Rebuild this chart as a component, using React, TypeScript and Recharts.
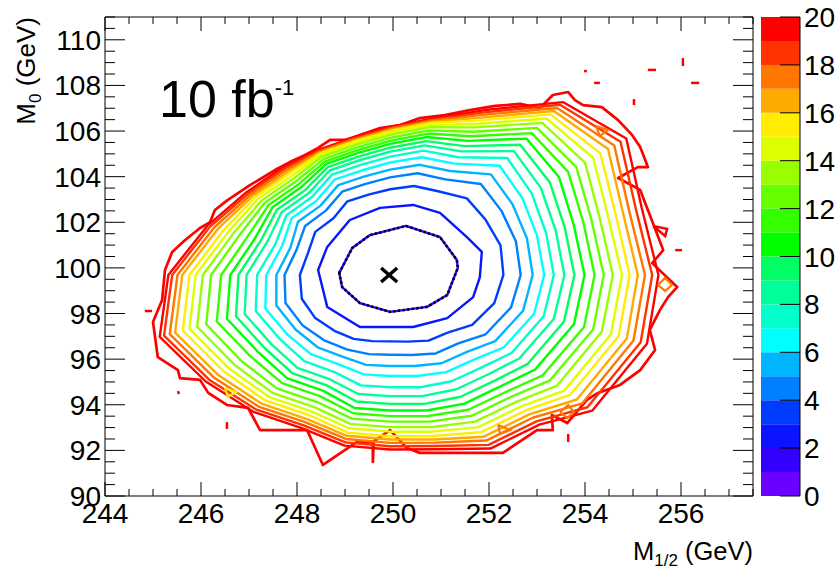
import React from 'react';
import { ScatterChart, Scatter, XAxis, YAxis, BarChart, Bar } from 'recharts';

type P = [number, number];

// palette bands 0..20 (one colour per unit)
const bandColors = ['#6a00ff', '#3300ff', '#0a14ff', '#003cff', '#0080ff', '#00b4ff', '#00ffff', '#00ffcc', '#00ff99', '#00ff66',
  '#00ff00', '#33ff00', '#66ff00', '#99ff00', '#ddff00', '#ffee00', '#ffaa00', '#ff7700', '#ff3300', '#ff0000'];
const colorTicks = [0, 2, 4, 6, 8, 10, 12, 14, 16, 18, 20];
const xMajor = [244, 246, 248, 250, 252, 254, 256];
const yMajor = [90, 92, 94, 96, 98, 100, 102, 104, 106, 108, 110];
const xDomain: P = [244, 257.5];
const yDomain: P = [90, 111];
const zDomain: P = [0, 20];
const bestFit: P = [249.92, 99.69];

// contour lines (M1/2, M0), levels 1..20
const c01: P[] = [[248.88, 99.78], [249.15, 100.87], [249.52, 101.44], [250.27, 101.84], [250.98, 101.35], [251.33, 100.35], [251.35, 100.0], [251.13, 98.81], [250.71, 98.29], [249.94, 98.07], [249.31, 98.46], [248.94, 99.16]];
const c02: P[] = [[248.44, 99.91], [248.63, 100.92], [249.1, 102.1], [249.73, 102.63], [250.42, 102.76], [250.98, 102.41], [251.54, 101.35], [251.85, 100.7], [251.81, 99.6], [251.67, 98.72], [251.13, 97.8], [250.42, 97.41], [249.31, 97.41], [248.63, 98.29]];
const c03: P[] = [[252.30, 99.69], [252.24, 100.99], [251.93, 102.11], [251.54, 103.05], [250.94, 103.36], [250.44, 103.59], [249.94, 103.45], [249.49, 103.21], [249.05, 102.92], [248.76, 102.18], [248.38, 101.58], [248.23, 100.66], [248.06, 99.69], [248.10, 98.65], [248.38, 97.80], [248.78, 97.24], [249.18, 96.89], [249.57, 96.79], [249.94, 96.78], [250.31, 96.77], [250.74, 96.81], [251.14, 97.16], [251.65, 97.50], [252.11, 98.46]];
const c04: P[] = [[252.66, 99.69], [252.56, 101.17], [252.26, 102.50], [251.83, 103.68], [251.09, 103.88], [250.51, 104.15], [249.94, 103.97], [249.43, 103.68], [248.94, 103.34], [248.60, 102.51], [248.17, 101.84], [247.99, 100.79], [247.74, 99.69], [247.76, 98.46], [248.12, 97.47], [248.58, 96.81], [249.05, 96.42], [249.50, 96.22], [249.94, 96.19], [250.39, 96.18], [250.89, 96.25], [251.36, 96.69], [251.93, 97.09], [252.46, 98.27]];
const c05: P[] = [[252.91, 99.69], [252.79, 101.30], [252.49, 102.79], [252.04, 104.10], [251.19, 104.25], [250.56, 104.52], [249.94, 104.31], [249.39, 104.00], [248.86, 103.63], [248.49, 102.73], [248.02, 102.02], [247.86, 100.87], [247.57, 99.69], [247.57, 98.35], [247.97, 97.30], [248.43, 96.52], [248.96, 96.10], [249.44, 95.75], [249.94, 95.70], [250.45, 95.70], [251.01, 95.82], [251.54, 96.32], [252.13, 96.79], [252.71, 98.12]];
const c06: P[] = [[253.15, 99.69], [253.00, 101.42], [252.70, 103.04], [252.22, 104.48], [251.28, 104.57], [250.60, 104.85], [249.94, 104.62], [249.36, 104.28], [248.79, 103.88], [248.40, 102.93], [247.89, 102.18], [247.69, 100.96], [247.36, 99.69], [247.34, 98.22], [247.80, 97.08], [248.29, 96.22], [248.87, 95.77], [249.39, 95.33], [249.94, 95.26], [250.50, 95.26], [251.11, 95.43], [251.70, 95.99], [252.31, 96.52], [252.94, 97.99]];
const c07: P[] = [[253.35, 99.69], [253.19, 101.53], [252.89, 103.27], [252.38, 104.82], [251.36, 104.85], [250.64, 105.14], [249.94, 104.88], [249.33, 104.52], [248.73, 104.09], [248.31, 103.11], [247.78, 102.31], [247.55, 101.04], [247.17, 99.69], [247.14, 98.11], [247.64, 96.89], [248.15, 95.91], [248.78, 95.43], [249.33, 94.85], [249.94, 94.77], [250.57, 94.77], [251.22, 95.03], [251.86, 95.65], [252.47, 96.27], [253.14, 97.88]];
const c08: P[] = [[253.57, 99.69], [253.39, 101.64], [253.08, 103.51], [252.52, 105.12], [251.43, 105.11], [250.66, 105.37], [249.94, 105.10], [249.30, 104.72], [248.68, 104.27], [248.24, 103.27], [247.68, 102.44], [247.38, 101.14], [246.95, 99.69], [246.91, 97.98], [247.46, 96.67], [248.01, 95.62], [248.69, 95.11], [249.28, 94.47], [249.94, 94.38], [250.61, 94.38], [251.32, 94.68], [252.00, 95.35], [252.63, 96.03], [253.35, 97.76]];
const c09: P[] = [[253.78, 99.69], [253.58, 101.75], [253.27, 103.74], [252.65, 105.40], [251.49, 105.34], [250.69, 105.56], [249.94, 105.27], [249.28, 104.88], [248.64, 104.42], [248.17, 103.41], [247.58, 102.55], [247.25, 101.21], [246.78, 99.69], [246.73, 97.88], [247.32, 96.50], [247.90, 95.39], [248.62, 94.85], [249.24, 94.14], [249.94, 94.04], [250.66, 94.04], [251.41, 94.35], [252.13, 95.07], [252.80, 95.78], [253.56, 97.64]];
const c10: P[] = [[253.99, 99.69], [253.77, 101.85], [253.46, 103.97], [252.78, 105.67], [251.55, 105.57], [250.71, 105.74], [249.94, 105.44], [249.26, 105.03], [248.61, 104.56], [248.10, 103.56], [247.49, 102.66], [247.12, 101.28], [246.61, 99.69], [246.54, 97.77], [247.18, 96.33], [247.79, 95.17], [248.55, 94.61], [249.20, 93.86], [249.94, 93.75], [250.70, 93.75], [251.49, 94.05], [252.25, 94.82], [252.96, 95.54], [253.77, 97.53]];
const c11: P[] = [[254.20, 99.69], [253.97, 101.96], [253.65, 104.21], [252.89, 105.91], [251.61, 105.77], [250.73, 105.89], [249.94, 105.57], [249.25, 105.15], [248.58, 104.66], [248.04, 103.68], [247.41, 102.76], [246.97, 101.37], [246.42, 99.69], [246.33, 97.65], [247.02, 96.14], [247.69, 94.95], [248.49, 94.37], [249.17, 93.63], [249.94, 93.50], [250.73, 93.51], [251.57, 93.78], [252.37, 94.58], [253.12, 95.29], [253.98, 97.41]];
const c12: P[] = [[254.39, 99.69], [254.14, 102.06], [253.82, 104.42], [253.00, 106.14], [251.66, 105.97], [250.75, 106.03], [249.94, 105.70], [249.23, 105.27], [248.55, 104.77], [247.98, 103.80], [247.33, 102.86], [246.81, 101.46], [246.21, 99.69], [246.11, 97.53], [246.84, 95.92], [247.58, 94.72], [248.42, 94.12], [249.14, 93.39], [249.94, 93.26], [250.76, 93.26], [251.64, 93.52], [252.47, 94.36], [253.27, 95.07], [254.17, 97.30]];
const c13: P[] = [[254.58, 99.69], [254.31, 102.16], [254.00, 104.62], [253.11, 106.36], [251.71, 106.16], [250.77, 106.17], [249.94, 105.83], [249.22, 105.39], [248.52, 104.88], [247.93, 103.92], [247.26, 102.95], [246.68, 101.53], [246.04, 99.69], [245.92, 97.42], [246.70, 95.75], [247.49, 94.52], [248.36, 93.90], [249.11, 93.16], [249.94, 93.02], [250.79, 93.02], [251.71, 93.26], [252.58, 94.14], [253.42, 94.84], [254.35, 97.20]];
const c14: P[] = [[254.77, 99.69], [254.48, 102.26], [254.17, 104.83], [253.20, 106.55], [251.76, 106.32], [250.78, 106.26], [249.94, 105.92], [249.21, 105.47], [248.50, 104.95], [247.88, 104.02], [247.19, 103.03], [246.57, 101.59], [245.89, 99.69], [245.76, 97.33], [246.58, 95.60], [247.41, 94.35], [248.30, 93.71], [249.08, 92.97], [249.94, 92.82], [250.81, 92.82], [251.78, 93.02], [252.67, 93.93], [253.57, 94.62], [254.54, 97.09]];
const c15: P[] = [[254.93, 99.69], [254.64, 102.34], [254.32, 105.02], [253.28, 106.73], [251.80, 106.47], [250.79, 106.36], [249.94, 106.00], [249.20, 105.55], [248.48, 105.02], [247.83, 104.12], [247.13, 103.10], [246.47, 101.65], [245.76, 99.69], [245.62, 97.25], [246.47, 95.47], [247.33, 94.20], [248.26, 93.54], [249.06, 92.78], [249.94, 92.62], [250.84, 92.63], [251.84, 92.80], [252.76, 93.75], [253.69, 94.43], [254.70, 97.00]];
const c16: P[] = [[255.10, 99.69], [254.79, 102.43], [254.48, 105.21], [253.35, 106.88], [251.83, 106.59], [250.80, 106.40], [249.94, 106.04], [249.19, 105.59], [248.47, 105.05], [247.80, 104.19], [247.08, 103.16], [246.35, 101.71], [245.61, 99.69], [245.46, 97.16], [246.35, 95.32], [247.26, 94.05], [248.21, 93.37], [249.04, 92.64], [249.94, 92.48], [250.86, 92.48], [251.89, 92.60], [252.84, 93.58], [253.83, 94.23], [254.87, 96.90]];
const c17: P[] = [[255.25, 99.69], [254.92, 102.50], [254.61, 105.37], [253.42, 107.01], [251.86, 106.71], [250.80, 106.45], [249.94, 106.09], [249.19, 105.63], [248.46, 105.09], [247.76, 104.27], [247.04, 103.22], [246.27, 101.76], [245.51, 99.69], [245.35, 97.10], [246.26, 95.21], [247.20, 93.92], [248.17, 93.24], [249.02, 92.50], [249.94, 92.33], [250.87, 92.34], [251.94, 92.43], [252.91, 93.43], [253.94, 94.06], [255.01, 96.82]];
const c18: P[] = [[255.40, 99.69], [255.06, 102.58], [254.74, 105.53], [253.48, 107.15], [251.90, 106.82], [250.81, 106.50], [249.94, 106.14], [249.18, 105.67], [248.45, 105.13], [247.73, 104.34], [246.99, 103.27], [246.19, 101.81], [245.40, 99.69], [245.23, 97.03], [246.17, 95.10], [247.14, 93.80], [248.14, 93.10], [249.01, 92.35], [249.94, 92.18], [250.89, 92.19], [251.99, 92.24], [252.99, 93.27], [254.05, 93.89], [255.16, 96.74]];
const c19: P[] = [[255.53, 99.69], [255.18, 102.65], [254.86, 105.67], [253.54, 107.27], [251.92, 106.92], [250.81, 106.54], [249.94, 106.18], [249.18, 105.71], [248.44, 105.17], [247.70, 104.40], [246.95, 103.32], [246.13, 101.84], [245.32, 99.69], [245.14, 96.98], [246.10, 95.02], [247.09, 93.69], [248.10, 92.98], [248.99, 92.21], [249.94, 92.04], [250.91, 92.05], [252.03, 92.08], [253.05, 93.13], [254.15, 93.74], [255.29, 96.67]];
const c20: P[] = [[245.0, 97.63], [245.19, 98.59], [245.25, 99.91], [245.4, 100.7], [245.67, 101.22], [245.98, 101.75], [246.19, 102.01], [246.29, 102.54], [246.56, 102.98], [246.81, 103.33], [247.02, 103.63], [247.27, 103.94], [247.54, 104.29], [247.85, 104.64], [248.17, 104.95], [248.44, 105.26], [248.69, 105.61], [249.0, 105.61], [249.31, 105.83], [249.73, 106.13], [250.15, 106.26], [250.56, 106.57], [251.08, 106.7], [251.6, 106.92], [252.13, 107.1], [252.65, 107.19], [253.06, 107.01], [253.33, 107.58], [253.65, 107.71], [253.79, 107.36], [253.96, 107.14], [254.35, 107.05], [254.69, 106.48], [254.98, 105.83], [255.15, 105.3], [255.31, 104.42], [255.1, 104.42], [254.69, 103.94], [255.15, 103.42], [255.35, 102.32], [255.63, 100.78], [255.4, 100.21], [255.92, 99.16], [255.73, 98.72], [255.56, 98.15], [255.35, 97.28], [255.46, 96.4], [255.15, 95.52], [254.73, 94.87], [254.27, 94.52], [254.04, 94.21], [253.63, 93.2], [253.31, 93.55], [253.33, 92.89], [253.0, 92.89], [252.29, 91.89], [250.56, 91.89], [250.29, 92.1], [249.94, 92.89], [249.58, 92.37], [249.58, 91.49], [249.6, 92.37], [249.25, 92.37], [248.54, 91.36], [248.21, 92.89], [247.23, 92.89], [246.98, 93.86], [246.54, 93.99], [246.15, 94.52], [245.98, 95.09], [245.56, 95.17], [245.52, 95.52], [245.1, 96.09]];
const contours: P[][] = [c01, c02, c03, c04, c05, c06, c07, c08, c09, c10, c11, c12, c13, c14, c15, c16, c17, c18, c19, c20];
const contourLevels = [1, 2, 3, 4, 5, 6, 7, 8, 9, 10, 11, 12, 13, 14, 15, 16, 17, 18, 19, 20];

// small isolated islands of the outer levels
const islandsRed: P[][] = [
  [[255.31, 108.68], [255.48, 108.68]], [[256.04, 109.2], [256.04, 108.85]], [[254.19, 108.11], [254.31, 108.11]],
  [[256.21, 108.11], [256.38, 108.11]], [[255.02, 107.4], [255.02, 107.14]], [[253.98, 108.63], [254.04, 108.63]],
  [[244.83, 98.11], [244.98, 98.11]], [[245.52, 94.6], [245.54, 94.47]], [[246.54, 93.24], [246.54, 92.94]],
  [[253.65, 92.72], [253.65, 92.37]], [[255.88, 100.78], [256.02, 100.78]],
  [[255.42, 101.84], [255.71, 101.71], [255.67, 101.4], [255.42, 101.84]],
];
const islandsOrange: P[][] = [
  [[254.23, 106.22], [254.48, 106.05], [254.31, 105.78], [254.23, 106.22]],
  [[252.19, 93.11], [252.44, 92.89], [252.23, 92.72], [252.19, 93.11]],
  [[253.48, 93.68], [253.65, 93.99], [253.77, 93.68], [253.63, 93.42], [253.48, 93.68]],
  [[255.52, 99.25], [255.67, 99.56], [255.81, 99.25], [255.67, 98.99], [255.52, 99.25]],
];
const islandsYellow: P[][] = [
  [[246.5, 94.73], [246.73, 94.56], [246.56, 94.34], [246.5, 94.73]],
];

const FONT = '"Liberation Sans", Arial, Helvetica, sans-serif';
const minorStep = 0.5;
const ticksBetween = (a: number, b: number) => {
  const out: number[] = [];
  for (let v = a; v <= b + 1e-9; v += minorStep) out.push(Math.round(v * 100) / 100);
  return out;
};
const xTicks = ticksBetween(xDomain[0], xDomain[1]);
const yTicks = ticksBetween(yDomain[0], yDomain[1]);
const isIn = (arr: number[], v: number) => arr.some((t) => Math.abs(t - v) < 1e-6);

const toPts = (c: P[]) => c.map(([x, y]) => ({ x, y }));
const NoDot = () => <g />;
const Cross = (p: any) => (
  <g stroke="#000" strokeWidth={3.5} strokeLinecap="butt">
    <line x1={p.cx - 8} y1={p.cy - 7} x2={p.cx + 8} y2={p.cy + 7} />
    <line x1={p.cx - 8} y1={p.cy + 7} x2={p.cx + 8} y2={p.cy - 7} />
  </g>
);

const BottomTick = (p: any) => {
  const v = p.payload.value;
  const m = isIn(xMajor, v);
  return (
    <g>
      <line x1={p.x} x2={p.x} y1={p.y} y2={p.y - (m ? 14 : 7)} stroke="#000" />
      {m && (
        <text x={p.x} y={p.y + 27} textAnchor="middle" fontFamily={FONT} fontSize={28} fill="#000">{v}</text>
      )}
    </g>
  );
};
const TopTick = (p: any) => {
  const m = isIn(xMajor, p.payload.value);
  return <line x1={p.x} x2={p.x} y1={p.y} y2={p.y + (m ? 14 : 7)} stroke="#000" />;
};
const LeftTick = (p: any) => {
  const v = p.payload.value;
  const m = isIn(yMajor, v);
  return (
    <g>
      <line x1={p.x} x2={p.x + (m ? 20 : 10)} y1={p.y} y2={p.y} stroke="#000" />
      {m && (
        <text x={p.x - 4} y={p.y + 10} textAnchor="end" fontFamily={FONT} fontSize={28} fill="#000">{v}</text>
      )}
    </g>
  );
};
const RightTick = (p: any) => {
  const m = isIn(yMajor, p.payload.value);
  return <line x1={p.x} x2={p.x - (m ? 20 : 10)} y1={p.y} y2={p.y} stroke="#000" />;
};
const ZTick = (p: any) => (
  <g>
    <line x1={p.x - 20} x2={p.x} y1={p.y} y2={p.y} stroke="#000" />
    <text x={p.x + 4} y={p.y + 10} textAnchor="start" fontFamily={FONT} fontSize={28} fill="#000">{p.payload.value}</text>
  </g>
);

const bandRow: Record<string, any> = { name: 'z' };
bandColors.forEach((_, i) => { bandRow[`b${i}`] = 1; });

const levelColor = (lvl: number) => bandColors[Math.min(lvl, bandColors.length - 1)];

export default function App() {
  const order = contourLevels.map((l, i) => ({ l, pts: toPts(contours[i]) })).reverse();
  return (
    <div style={{ position: 'absolute', left: 0, top: 0, width: 835, height: 571, background: '#fff' }}>
      <div style={{ position: 'absolute', left: 0, top: 0 }}>
        <ScatterChart width={835} height={571} margin={{ top: 0, right: 0, bottom: 0, left: 0 }}>
          <XAxis xAxisId="b" type="number" dataKey="x" domain={xDomain} ticks={xTicks} interval={0} orientation="bottom" height={75}
            tickSize={0} tickMargin={0} tickLine={false} axisLine={{ stroke: '#000' }} tick={<BottomTick />} allowDataOverflow />
          <XAxis xAxisId="t" type="number" dataKey="x" domain={xDomain} ticks={xTicks} interval={0} orientation="top" height={17}
            tickSize={0} tickMargin={0} tickLine={false} axisLine={{ stroke: '#000' }} tick={<TopTick />} allowDataOverflow />
          <YAxis yAxisId="l" type="number" dataKey="y" domain={yDomain} ticks={yTicks} interval={0} orientation="left" width={105}
            tickSize={0} tickMargin={0} tickLine={false} axisLine={{ stroke: '#000' }} tick={<LeftTick />} allowDataOverflow />
          <YAxis yAxisId="r" type="number" dataKey="y" domain={yDomain} ticks={yTicks} interval={0} orientation="right" width={82}
            tickSize={0} tickMargin={0} tickLine={false} axisLine={{ stroke: '#000' }} tick={<RightTick />} allowDataOverflow />
          {order.map(({ l, pts }) => (
            <Scatter key={`c${l}`} xAxisId="b" yAxisId="l" data={pts} isAnimationActive={false} shape={<NoDot />}
              line={{ stroke: levelColor(l), strokeWidth: l === 20 ? 2.7 : 2.4, strokeLinejoin: 'round' }} lineJointType="linearClosed" />
          ))}
          {islandsRed.map((c, i) => (
            <Scatter key={`ir${i}`} xAxisId="b" yAxisId="l" data={toPts(c)} isAnimationActive={false} shape={<NoDot />}
              line={{ stroke: '#ff0000', strokeWidth: 2.5 }} lineJointType="linear" />
          ))}
          {islandsOrange.map((c, i) => (
            <Scatter key={`io${i}`} xAxisId="b" yAxisId="l" data={toPts(c)} isAnimationActive={false} shape={<NoDot />}
              line={{ stroke: '#ff7700', strokeWidth: 2.2 }} lineJointType="linear" />
          ))}
          {islandsYellow.map((c, i) => (
            <Scatter key={`iy${i}`} xAxisId="b" yAxisId="l" data={toPts(c)} isAnimationActive={false} shape={<NoDot />}
              line={{ stroke: '#ffee00', strokeWidth: 2.2 }} lineJointType="linear" />
          ))}
          <Scatter xAxisId="b" yAxisId="l" data={toPts(c01)} isAnimationActive={false} shape={<NoDot />}
            line={{ stroke: '#000', strokeWidth: 2.6, strokeDasharray: '2 2.6' }} lineJointType="linearClosed" />
          <Scatter xAxisId="t" yAxisId="r" data={[{ x: bestFit[0], y: bestFit[1] }]} isAnimationActive={false} shape={<Cross />} />
        </ScatterChart>
      </div>
      <div style={{ position: 'absolute', left: 0, top: 0 }}>
        <BarChart width={835} height={571} data={[bandRow]} margin={{ top: 17, right: 0, bottom: 75, left: 761 }} barCategoryGap={0} barGap={0}>
          <XAxis dataKey="name" hide />
          <YAxis type="number" orientation="right" width={35} domain={zDomain} ticks={colorTicks} interval={0}
            tickSize={0} tickMargin={0} tickLine={false} axisLine={{ stroke: '#000' }} tick={<ZTick />} allowDataOverflow />
          {bandColors.map((c, i) => (
            <Bar key={`b${i}`} dataKey={`b${i}`} stackId="z" fill={c} isAnimationActive={false} />
          ))}
        </BarChart>
      </div>
      <svg width={835} height={571} style={{ position: 'absolute', left: 0, top: 0, pointerEvents: 'none' }}>
        <text x={159} y={117} fontFamily={FONT} fontSize={52} fill="#000">
          10 fb<tspan fontSize={22} dy={-22}>-1</tspan>
        </text>
        <text x={753} y={560} textAnchor="end" fontFamily={FONT} fontSize={25.5} fill="#000">
          M<tspan fontSize={17} dy={6}>1/2</tspan><tspan dy={-6}> (GeV)</tspan>
        </text>
        <text transform="translate(35,17) rotate(-90)" textAnchor="end" fontFamily={FONT} fontSize={26} fill="#000">
          M<tspan fontSize={17} dy={6}>0</tspan><tspan dy={-6}> (GeV)</tspan>
        </text>
      </svg>
    </div>
  );
}
